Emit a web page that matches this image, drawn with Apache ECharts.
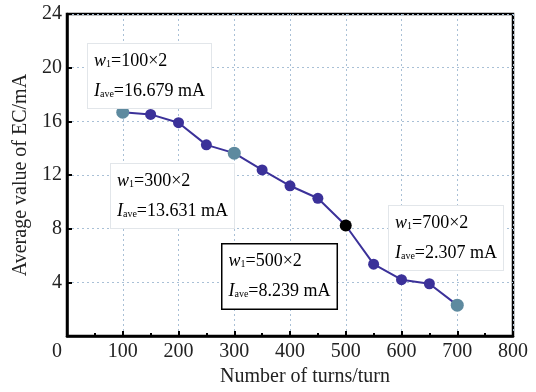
<!DOCTYPE html>
<html>
<head>
<meta charset="utf-8">
<script src="https://cdn.jsdelivr.net/npm/echarts@6/dist/echarts.min.js"></script>
<style>
  html, body {margin: 0; padding: 0; background: #fff;}
  #chart {width: 536px; height: 392px;}
</style>
</head>
<body>
<div id="chart"></div>
<script>
const turns = [100, 150, 200, 250, 300, 350, 400, 450, 500, 550, 600, 650, 700];
const ecAverage = [16.679, 16.52, 15.9, 14.25, 13.631, 12.38, 11.2, 10.27, 8.239, 5.36, 4.2, 3.9, 2.307];
const greyTurns = [100, 300, 700];
const blackTurn = 500;

const FONT = '"Liberation Serif", "DejaVu Serif", serif';
const LINE = '#3b3199';
const GREY = '#5e8a9f';

const seriesData = turns.map((t, i) => {
  let color = LINE, size = 11;
  if (greyTurns.includes(t)) { color = GREY; size = 13; }
  if (t === blackTurn) { color = '#000'; size = 12; }
  return {value: [t, ecAverage[i]], symbolSize: size, itemStyle: {color}};
});

const rich = {
  it: {fontFamily: FONT, fontStyle: 'italic', fontSize: 18, color: '#222', lineHeight: 30},
  sub: {fontFamily: FONT, fontSize: 10, color: '#222', lineHeight: 10, padding: [6, 0, 0, 0], verticalAlign: 'middle'},
  t: {fontFamily: FONT, fontSize: 18, color: '#222', lineHeight: 30}
};

const box = (x, y, w, v, strong) => ({
  type: 'text',
  left: x,
  top: y,
  z: 10,
  style: {
    text: `{it|w}{sub|1}{t|=${w}×2}\n{it|I}{sub|ave}{t|=${v} mA}`,
    rich: rich,
    lineHeight: 30,
    backgroundColor: '#fff',
    borderColor: strong ? '#000' : '#e2e6ea',
    borderWidth: strong ? 1.5 : 1,
    padding: [2, 6, 2, 6]
  }
});

const chart = echarts.init(document.getElementById('chart'));
chart.setOption({
  animation: false,
  grid: {left: 67, right: 23, top: 14, bottom: 50, show: true, borderColor: '#000', borderWidth: 2.5},
  xAxis: {
    type: 'value', min: 0, max: 800, interval: 100,
    name: 'Number of turns/turn', nameLocation: 'middle', nameGap: 28,
    nameTextStyle: {fontFamily: FONT, fontSize: 20, color: '#222', padding: [0, 0, 0, 30]},
    axisLine: {show: true, lineStyle: {color: '#000', width: 2.5}},
    axisTick: {inside: true, length: 5, lineStyle: {color: '#000', width: 2}},
    minorTick: {show: true, splitNumber: 2, length: 3, lineStyle: {color: '#000', width: 2}},
    splitLine: {show: true, lineStyle: {color: '#a9c0d6', type: [2, 3], width: 1}},
    axisLabel: {
      fontFamily: FONT, fontSize: 20, color: '#222', margin: 6,
      formatter: v => v === 0 ? '{z|0}' : String(v),
      rich: {z: {fontFamily: FONT, fontSize: 20, color: '#222', padding: [0, 20, 0, 0]}}
    }
  },
  yAxis: {
    type: 'value', min: 0, max: 24, interval: 4,
    name: 'Average value of EC/mA', nameLocation: 'middle', nameGap: 27,
    nameTextStyle: {fontFamily: FONT, fontSize: 20, color: '#222'},
    axisLine: {show: true, lineStyle: {color: '#000', width: 2.5}},
    axisTick: {inside: true, length: 5, lineStyle: {color: '#000', width: 2}},
    splitLine: {show: true, lineStyle: {color: '#a9c0d6', type: [2, 3], width: 1}},
    axisLabel: {
      fontFamily: FONT, fontSize: 20, color: '#222', margin: 5,
      formatter: v => v === 0 ? '' : String(v)
    }
  },
  series: [{
    type: 'line',
    data: seriesData,
    symbol: 'circle',
    lineStyle: {color: LINE, width: 2},
    z: 3
  }],
  graphic: [
    box(87, 43, 100, '16.679', false),
    box(110, 163, 300, '13.631', false),
    box(221, 243, 500, '8.239', true),
    box(388, 205, 700, '2.307', false)
  ]
});
</script>
</body>
</html>
